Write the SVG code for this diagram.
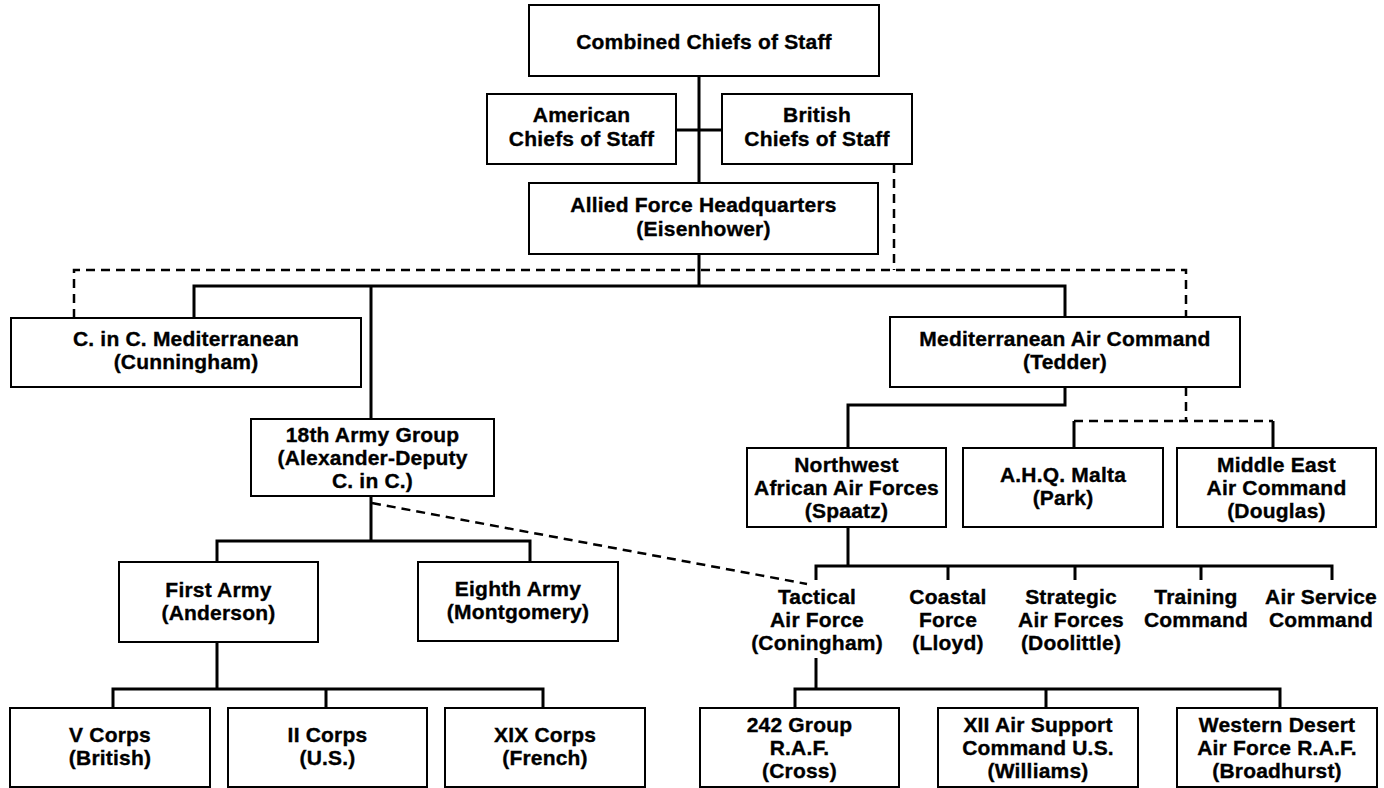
<svg xmlns="http://www.w3.org/2000/svg" width="1384" height="788" viewBox="0 0 1384 788">
<style>
.box{fill:#fff;stroke:#000;stroke-width:2}
.t{font-family:"Liberation Sans",Arial,Helvetica,sans-serif;font-weight:bold;font-size:21px;letter-spacing:0.2px;text-anchor:middle;fill:#000;stroke:#000;stroke-width:0.35px}
.s{fill:none;stroke:#000;stroke-width:3}
.d{fill:none;stroke:#000;stroke-width:2.5;stroke-dasharray:9 6}
</style>
<rect width="1384" height="788" fill="#fff"/>
<g id="connectors">
<path class="s" d="M699,76V286M676,130H722M194,318V286H1065V317M371,286V419"/>
<path class="s" d="M1065,387V405H848V448M1074,421V448M1273,421V448"/>
<path class="s" d="M371,496V541M217,562V541H530V562"/>
<path class="s" d="M217,642V689M113,708V689H543V708M326,689V708"/>
<path class="s" d="M848,527V566M816,580V566H1332V580M948,566V580M1075,566V580M1201,566V580"/>
<path class="s" d="M816,658V689M795,708V689H1280V708M1046,689V708"/>
<path class="d" d="M894,164V270"/>
<path class="d" d="M74,318V270H1186V317"/>
<path class="d" d="M1186,387V421M1074,421H1273"/>
<path class="d" d="M372,503L807,584"/>
</g>
<g id="ccs"><rect class="box" x="529" y="5" width="350" height="71"/><text class="t" x="704" y="49">Combined Chiefs of Staff</text></g>
<g id="american"><rect class="box" x="487" y="94" width="189" height="70"/><text class="t" x="581.5" y="122">American<tspan x="581.5" dy="24">Chiefs of Staff</tspan></text></g>
<g id="british"><rect class="box" x="722" y="94" width="190" height="70"/><text class="t" x="817" y="122">British<tspan x="817" dy="24">Chiefs of Staff</tspan></text></g>
<g id="afhq"><rect class="box" x="529" y="183" width="349" height="71"/><text class="t" x="703.5" y="212">Allied Force Headquarters<tspan x="703.5" dy="24">(Eisenhower)</tspan></text></g>
<g id="cinc"><rect class="box" x="11" y="318" width="350" height="69"/><text class="t" x="186" y="346">C. in C. Mediterranean<tspan x="186" dy="23">(Cunningham)</tspan></text></g>
<g id="mac"><rect class="box" x="890" y="317" width="350" height="70"/><text class="t" x="1065" y="346">Mediterranean Air Command<tspan x="1065" dy="23">(Tedder)</tspan></text></g>
<g id="ag18"><rect class="box" x="251" y="419" width="243" height="77"/><text class="t" x="372.5" y="442">18th Army Group<tspan x="372.5" dy="23">(Alexander-Deputy</tspan><tspan x="372.5" dy="23">C. in C.)</tspan></text></g>
<g id="nwaaf"><rect class="box" x="747" y="448" width="199" height="79"/><text class="t" x="846.5" y="472">Northwest<tspan x="846.5" dy="23">African Air Forces</tspan><tspan x="846.5" dy="23">(Spaatz)</tspan></text></g>
<g id="ahq"><rect class="box" x="963" y="448" width="200" height="79"/><text class="t" x="1063" y="482">A.H.Q. Malta<tspan x="1063" dy="23">(Park)</tspan></text></g>
<g id="meac"><rect class="box" x="1177" y="448" width="199" height="79"/><text class="t" x="1276.5" y="472">Middle East<tspan x="1276.5" dy="23">Air Command</tspan><tspan x="1276.5" dy="23">(Douglas)</tspan></text></g>
<g id="first"><rect class="box" x="119" y="562" width="199" height="80"/><text class="t" x="218.5" y="597">First Army<tspan x="218.5" dy="23">(Anderson)</tspan></text></g>
<g id="eighth"><rect class="box" x="418" y="562" width="200" height="79"/><text class="t" x="518" y="596">Eighth Army<tspan x="518" dy="23">(Montgomery)</tspan></text></g>
<g id="vcorps"><rect class="box" x="10" y="708" width="200" height="79"/><text class="t" x="110" y="742">V Corps<tspan x="110" dy="23">(British)</tspan></text></g>
<g id="iicorps"><rect class="box" x="228" y="708" width="199" height="79"/><text class="t" x="327.5" y="742">II Corps<tspan x="327.5" dy="23">(U.S.)</tspan></text></g>
<g id="xixcorps"><rect class="box" x="445" y="708" width="200" height="79"/><text class="t" x="545" y="742">XIX Corps<tspan x="545" dy="23">(French)</tspan></text></g>
<g id="tactical"><text class="t" x="817" y="604">Tactical<tspan x="817" dy="23">Air Force</tspan><tspan x="817" dy="23">(Coningham)</tspan></text></g>
<g id="coastal"><text class="t" x="948" y="604">Coastal<tspan x="948" dy="23">Force</tspan><tspan x="948" dy="23">(Lloyd)</tspan></text></g>
<g id="strategic"><text class="t" x="1071" y="604">Strategic<tspan x="1071" dy="23">Air Forces</tspan><tspan x="1071" dy="23">(Doolittle)</tspan></text></g>
<g id="training"><text class="t" x="1196" y="604">Training<tspan x="1196" dy="23">Command</tspan></text></g>
<g id="airservice"><text class="t" x="1321" y="604">Air Service<tspan x="1321" dy="23">Command</tspan></text></g>
<g id="g242"><rect class="box" x="700" y="708" width="199" height="79"/><text class="t" x="799.5" y="732">242 Group<tspan x="799.5" dy="23">R.A.F.</tspan><tspan x="799.5" dy="23">(Cross)</tspan></text></g>
<g id="xii"><rect class="box" x="938" y="708" width="200" height="79"/><text class="t" x="1038" y="732">XII Air Support<tspan x="1038" dy="23">Command U.S.</tspan><tspan x="1038" dy="23">(Williams)</tspan></text></g>
<g id="wdaf"><rect class="box" x="1177" y="708" width="200" height="79"/><text class="t" x="1277" y="732">Western Desert<tspan x="1277" dy="23">Air Force R.A.F.</tspan><tspan x="1277" dy="23">(Broadhurst)</tspan></text></g>
</svg>
